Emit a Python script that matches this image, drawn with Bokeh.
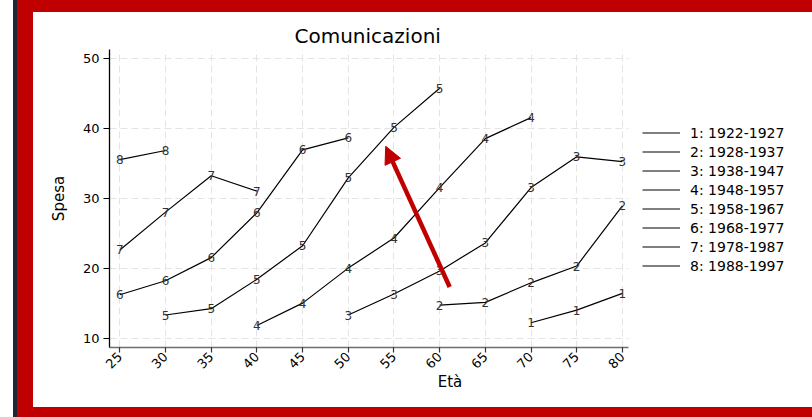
import math
from bokeh.plotting import figure
from bokeh.models import Range1d, FixedTicker, Legend, LegendItem, Arrow, NormalHead, Grid
from bokeh.core.properties import value
from bokeh.embed import file_html
from bokeh.resources import INLINE

# ---- data ----
chart_title = "Comunicazioni"
x_title = "Età"
y_title = "Spesa"
x_ticks = [25, 30, 35, 40, 45, 50, 55, 60, 65, 70, 75, 80]
y_ticks = [10, 20, 30, 40, 50]

cohort_codes = ["1", "2", "3", "4", "5", "6", "7", "8"]
cohort_labels = ["1: 1922-1927", "2: 1928-1937", "3: 1938-1947", "4: 1948-1957",
                 "5: 1958-1967", "6: 1968-1977", "7: 1978-1987", "8: 1988-1997"]

eta_1 = [70, 75, 80]
spesa_1 = [12.3, 14.1, 16.5]
eta_2 = [60, 65, 70, 75, 80]
spesa_2 = [14.8, 15.2, 18.0, 20.4, 29.0]
eta_3 = [50, 55, 60, 65, 70, 75, 80]
spesa_3 = [13.4, 16.4, 19.7, 23.7, 31.6, 36.0, 35.3]
eta_4 = [40, 45, 50, 55, 60, 65, 70]
spesa_4 = [11.9, 15.1, 20.1, 24.4, 31.6, 38.6, 41.6]
eta_5 = [30, 35, 40, 45, 50, 55, 60]
spesa_5 = [13.4, 14.3, 18.5, 23.3, 33.0, 40.2, 45.8]
eta_6 = [25, 30, 35, 40, 45, 50]
spesa_6 = [16.3, 18.3, 21.6, 28.0, 37.0, 38.7]
eta_7 = [25, 30, 35, 40]
spesa_7 = [22.7, 28.1, 33.3, 31.1]
eta_8 = [25, 30]
spesa_8 = [35.6, 36.9]

all_eta = [eta_1, eta_2, eta_3, eta_4, eta_5, eta_6, eta_7, eta_8]
all_spesa = [spesa_1, spesa_2, spesa_3, spesa_4, spesa_5, spesa_6, spesa_7, spesa_8]

arrow_from = [61.1, 17.4]
arrow_to = [54.1, 37.5]

# axis extents (the plotted area; the frame extends right to hold the legend)
x_axis_lo, x_axis_hi = 23.87, 80.67
y_axis_lo, y_axis_hi = 8.76, 51.33

# ---- styling ----
FONT = "DejaVu Sans"
RED = "#c00000"
NAVY = "#1c2836"

frame_css = {
    "background-color": "#ffffff",
    "box-shadow": (
        "-783px 16px 0 0 #ffffff, "
        f"-779px 16px 0 0 {NAVY}, "
        f"-763px 6px 0 0 {RED}, "
        f"16px -389px 0 0 {RED}, "
        "16px 6px 0 0 #ffffff, "
        "0 6px 0 0 #ffffff, "
        f"16px 16px 0 0 {RED}, "
        f"0 16px 0 0 {RED}, "
        "inset 13px 0 0 0 #ffffff, "
        f"inset 17px 0 0 0 {NAVY}, "
        f"inset 33px 0 0 0 {RED}, "
        f"inset 0 12px 0 0 {RED}"
    ),
}

W, H = 796, 401
LEFT, RIGHT, TOP, BOTTOM = 109, 6, 49, 54
px_per_unit = (628 - 109) / (x_axis_hi - x_axis_lo)
x_end = x_axis_lo + (W - LEFT - RIGHT) / px_per_unit

p = figure(width=W, height=H,
           x_range=Range1d(x_axis_lo, x_end), y_range=Range1d(y_axis_lo, y_axis_hi),
           output_backend="svg", toolbar_location=None,
           min_border_left=LEFT, min_border_right=RIGHT,
           min_border_top=TOP, min_border_bottom=BOTTOM,
           border_fill_alpha=0, background_fill_color="#ffffff",
           outline_line_color=None, styles=frame_css)

p.title.text = chart_title
p.title.align = "left"
p.title.offset = 185
p.title.text_font = FONT
p.title.text_font_size = "20px"
p.title.text_font_style = "normal"
p.title.text_color = "#000000"
p.title.standoff = 4

# axes
p.xaxis.ticker = FixedTicker(ticks=x_ticks)
p.yaxis.ticker = FixedTicker(ticks=y_ticks)
p.xaxis.bounds = (x_axis_lo, x_axis_hi)
p.xaxis.axis_label = x_title
p.yaxis.axis_label = y_title
for ax in (p.xaxis, p.yaxis):
    ax.axis_label_text_font = FONT
    ax.axis_label_text_font_size = "15px"
    ax.axis_label_text_font_style = "normal"
    ax.axis_label_text_color = "#000000"
    ax.major_label_text_font = FONT
    ax.major_label_text_font_size = "13px"
    ax.major_label_text_color = "#000000"
    ax.minor_tick_line_color = None
    ax.major_tick_in = 0
    ax.axis_line_width = 1.3
    ax.major_tick_line_width = 1.2
p.xaxis.axis_line_color = "#6e6e6e"
p.xaxis.major_tick_line_color = "#333333"
p.yaxis.axis_line_color = "#000000"
p.yaxis.major_tick_line_color = "#000000"
p.xaxis.major_tick_out = 5
p.yaxis.major_tick_out = 6
p.xaxis.major_label_standoff = 2
p.yaxis.major_label_standoff = 4
p.xaxis.major_label_orientation = math.pi / 4
p.xaxis.axis_label_standoff = -3
p.yaxis.axis_label_standoff = 12

# grid
p.xgrid.ticker = FixedTicker(ticks=x_ticks)
p.ygrid.ticker = FixedTicker(ticks=y_ticks)
if "cross_bounds" in Grid.properties():
    p.ygrid[0].cross_bounds = (x_axis_lo, x_axis_hi)
for g in (p.xgrid, p.ygrid):
    g.grid_line_color = "#e4e4e4"
    g.grid_line_dash = "7 4"
    g.grid_line_width = 1

# series
items = []
for code, lab, xs, ys in zip(cohort_codes, cohort_labels, all_eta, all_spesa):
    r = p.line(xs, ys, line_color="#000000", line_width=1.2)
    p.text(xs, ys, text=[code] * len(xs), text_font=value(FONT),
           text_font_size="12px", text_align="center", text_baseline="middle",
           text_color="#333333")
    items.append(LegendItem(label=lab, renderers=[r]))

legend = Legend(items=items, location=(533, 72), margin=0, padding=0,
                spacing=0, glyph_width=38, glyph_height=19, label_height=19,
                label_standoff=10, label_text_font=FONT, label_text_font_size="14px",
                label_text_color="#000000", border_line_alpha=0,
                background_fill_alpha=0)
p.add_layout(legend)

p.add_layout(Arrow(end=NormalHead(size=17, fill_color=RED, line_color=RED),
                   x_start=arrow_from[0], y_start=arrow_from[1],
                   x_end=arrow_to[0], y_end=arrow_to[1],
                   line_color=RED, line_width=4.5))

open("out.html", "w").write(file_html(p, INLINE))
